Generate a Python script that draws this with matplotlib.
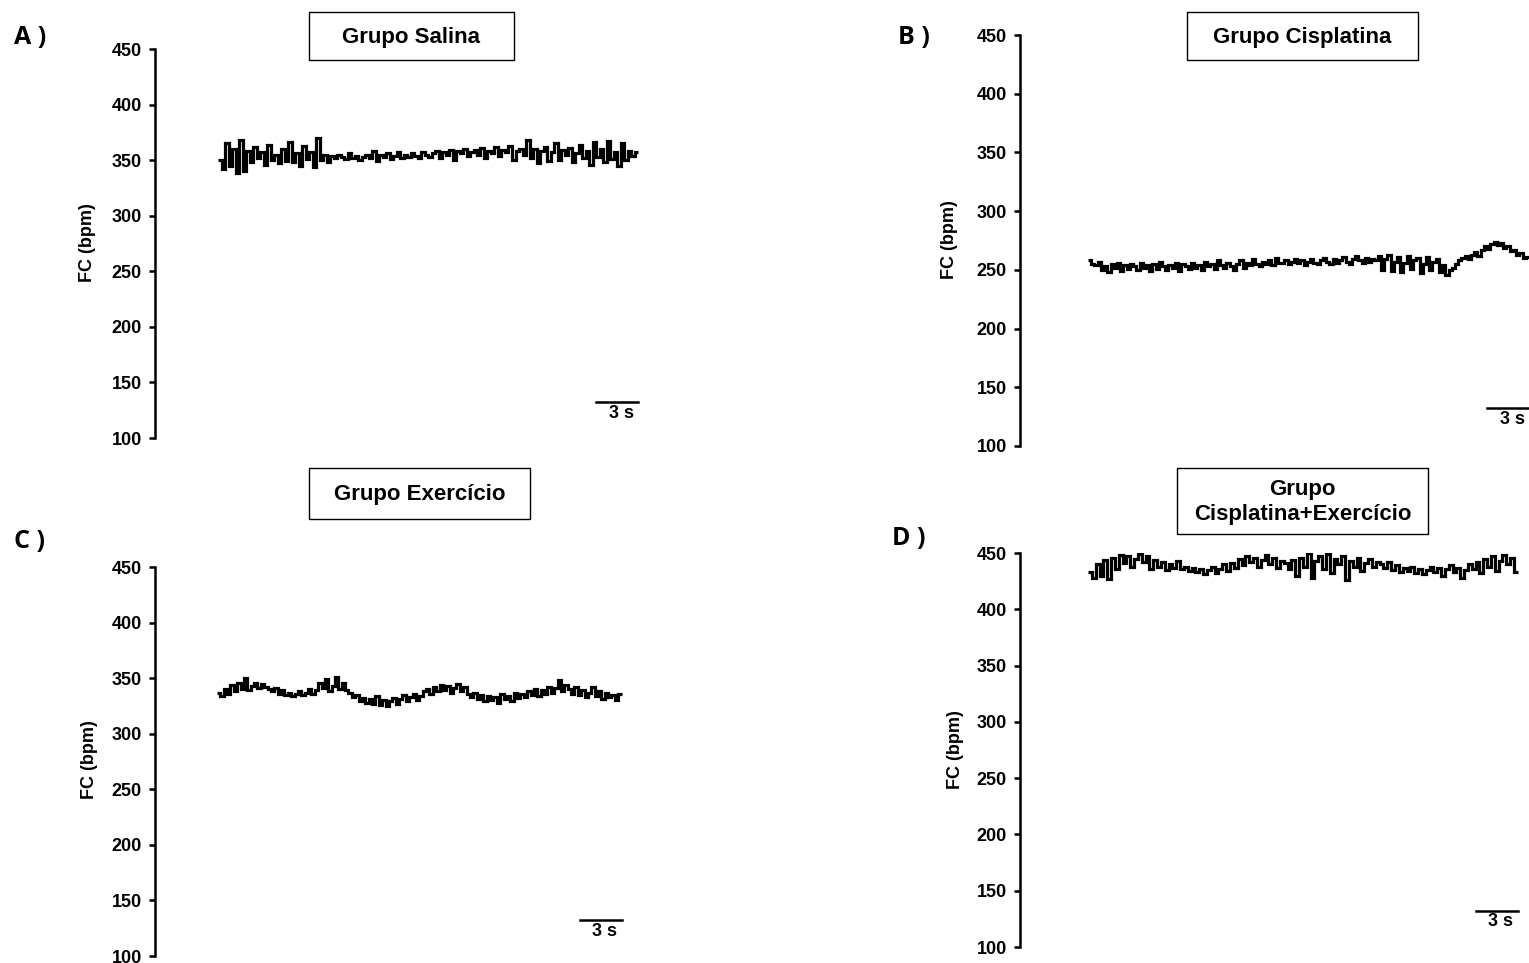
import numpy as np
import matplotlib.pyplot as plt
from matplotlib.patches import Rectangle

plt.rcParams['font.family'] = ['Liberation Sans', 'DejaVu Sans']

# Frequência cardíaca (bpm) - registros de ~30 s por grupo
fc_salina = [350, 342, 365, 345, 360, 338, 368, 340, 358, 348, 362, 352, 357, 346, 364, 350,
             355, 347, 360, 349, 366, 348, 356, 345, 363, 351, 357, 344, 370, 350, 355, 348,
             354, 352, 355, 353, 351, 356, 352, 354, 350, 353, 355, 352, 358, 349, 355, 353,
             356, 351, 354, 357, 352, 355, 353, 356, 354, 352, 357, 355, 353, 356,
             358, 352, 357, 355, 359, 350, 358, 356, 360, 354, 357, 359, 355, 361, 352, 358,
             356, 362, 354, 359, 357, 363, 350, 358, 360, 355, 368, 352,
             360, 347, 358, 362, 349, 357, 365, 350, 359, 355, 361, 348, 356, 364, 352, 358,
             346, 366, 353, 360, 348, 367, 351, 357, 345, 365, 350, 358, 354, 357]

fc_cisplatina = [258, 255, 254, 257, 250, 253, 248, 255, 252, 256, 249, 254, 251, 255, 253, 250,
                 256, 252, 254, 249, 255, 251, 257, 253, 250, 254, 252, 256, 249, 255,
                 253, 251, 256, 252, 254, 250, 257, 253, 255, 251, 258, 254, 252, 256, 253, 250,
                 255, 258, 252, 256, 254, 259, 255, 253, 257, 255, 258, 254, 260, 256,
                 256, 258, 255, 257, 259, 256, 258, 254, 257, 259, 256, 255, 258, 260, 257, 255,
                 259, 256, 258, 261, 257, 255, 259, 262, 258, 256, 260, 257, 259, 258,
                 262, 250, 259, 263, 249, 257, 261, 248, 256, 262, 251, 258, 260, 247, 255, 261,
                 250, 257, 259, 248, 254, 246,
                 250, 252, 255, 258, 260, 262, 259, 263, 265, 262, 267, 270, 268, 272, 274, 271,
                 273, 269, 270, 266, 267, 263, 264, 260, 261]

fc_exercicio = [337, 334, 340, 336, 344, 338, 346, 340, 350, 339, 343, 346, 341, 345,
                342, 340, 338, 341, 336, 339, 335, 337, 334, 336, 338, 335, 337, 340, 336,
                339, 346, 341, 349, 338, 343, 351, 340, 346, 339,
                337, 333, 335, 329, 332, 328, 331, 327, 334, 326, 330, 325, 329, 332, 327, 331,
                335, 329, 333, 336, 330, 334, 338,
                340, 336, 342, 338, 344, 339, 343, 337, 341, 345, 338, 342, 336, 333, 337, 331,
                335, 329, 334, 330, 333, 328, 336, 331, 334, 329, 337, 332,
                336, 333, 338, 335, 340, 334, 339, 336, 342, 337, 341, 348, 338, 344, 340, 336,
                342, 335, 339, 333, 337, 342, 334, 338, 331, 337, 333, 335, 330, 336]

fc_cis_exerc = [433, 428, 440, 430, 444, 427, 446, 436, 448, 441, 447, 438, 445, 449,
                442, 447, 436, 444, 438, 442, 435, 440, 437, 443,
                436, 438, 434, 437, 433, 436, 431, 435, 438, 432, 436, 440, 434,
                441, 437, 445, 439, 447, 442, 446, 438, 444, 448, 440, 446, 437, 443, 441,
                436, 444, 430, 446, 438, 450, 428, 443, 447, 436, 449, 432, 445, 440, 447, 426,
                443, 438, 446, 434, 441, 445, 438, 442,
                440, 437, 442, 435, 439, 433, 437, 434, 438, 432, 436, 431, 435, 438, 433, 437,
                430, 436, 439, 433, 437, 428, 435, 440,
                436, 442, 432, 445, 438, 447, 434, 443, 448, 440, 446, 433]

W, H = 1529, 963
PX_S = 14.0  # pixels por segundo na escala horizontal

fig = plt.figure(figsize=(W / 100, H / 100), dpi=100)


def painel(vals, dur, eixo_x, y_topo, y_base, x0, x_dir, titulo, caixa, letra, pos_letra, pos_ylabel):
    # eixo posicionado em pixels da figura
    ax = fig.add_axes([eixo_x / W, 1 - y_base / H, (x_dir - eixo_x) / W, (y_base - y_topo) / H])
    ax.set_xlim((eixo_x - x0) / PX_S, (x_dir - x0) / PX_S)
    ax.set_ylim(100, 450)
    ax.set_yticks(np.arange(100, 451, 50))
    for s in ['top', 'right', 'bottom']:
        ax.spines[s].set_visible(False)
    ax.spines['left'].set_linewidth(1.8)
    ax.set_xticks([])
    ax.tick_params(axis='y', length=4.5, width=1.8, pad=5, labelsize=13)
    for lb in ax.get_yticklabels():
        lb.set_fontweight('bold')
    ax.patch.set_alpha(0)

    bordas = np.linspace(0, dur, len(vals) + 1)
    ax.stairs(vals, bordas, baseline=None, color='black', lw=2.3)

    # barra de escala 3 s
    ax.plot([dur - 3, dur], [132, 132], color='black', lw=1.8, clip_on=False)
    ax.text(dur - 1.2, 130, '3 s', ha='center', va='top', fontsize=13, fontweight='bold', clip_on=False)

    # caixa de título
    bx0, by0, bx1, by1 = caixa
    fig.patches.append(Rectangle((bx0 / W, 1 - by1 / H), (bx1 - bx0) / W, (by1 - by0) / H,
                                 transform=fig.transFigure, fill=False, ec='black', lw=1.0))
    fig.text((bx0 + bx1) / 2 / W, 1 - (by0 + by1 + 2) / 2 / H, titulo, ha='center', va='center',
             fontsize=16, fontweight='bold', linespacing=1.3)

    fig.text(pos_letra[0] / W, 1 - pos_letra[1] / H, letra, ha='left', va='center',
             fontsize=18, fontweight='bold', family='Open Sans')
    fig.text(pos_ylabel[0] / W, 1 - pos_ylabel[1] / H, 'FC (bpm)', rotation=90,
             ha='center', va='center', fontsize=13, fontweight='bold')
    return ax


painel(fc_salina, 30.0, 155, 49, 438, 218, 700, 'Grupo Salina',
       (309, 12, 514, 60), 'A )', (14, 37), (87, 243))
painel(fc_cisplatina, 31.5, 1020, 35, 446, 1088, 1529, 'Grupo Cisplatina',
       (1187, 12, 1418, 60), 'B )', (898, 37), (950, 240))
painel(fc_exercicio, 28.9, 155, 567, 956, 217, 700, 'Grupo Exercício',
       (309, 468, 530, 519), 'C )', (14, 541), (89, 760))
painel(fc_cis_exerc, 30.7, 1020, 553, 947, 1088, 1529, 'Grupo\nCisplatina+Exercício',
       (1177, 468, 1428, 534), 'D )', (892, 538), (955, 750))

fig.savefig('out.png', dpi=100, facecolor='white')
